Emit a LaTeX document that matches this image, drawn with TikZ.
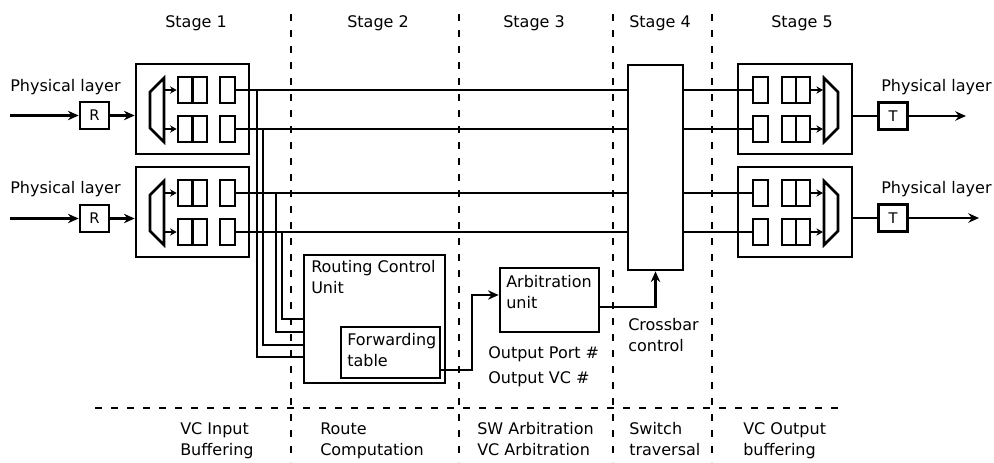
\documentclass[tikz,border=0pt]{standalone}
\usepackage{fontspec}
\setmainfont{DejaVu Sans}
\usetikzlibrary{fit,arrows.meta}
\begin{document}
\begin{tikzpicture}[x=0.75pt,y=-0.75pt,
  box/.style={draw, line width=2pt, inner sep=0pt},
  queue/.style={box, path picture={\draw[line width=2pt] (path picture bounding box.north) -- (path picture bounding box.south);}},
  wire/.style={line width=1.8pt},
  arr/.style={wire, -{Stealth[length=8pt,width=7pt]}},
  sarr/.style={line width=1.2pt, -{Stealth[length=5pt,width=5.5pt]}},
  stagesep/.style={line width=1.8pt, dash pattern=on 5.25pt off 6.75pt},
  txt/.style={inner sep=0pt, font=\fontsize{12}{15.5}\selectfont, align=left},
  lbl/.style={font=\fontsize{11}{13}\selectfont, minimum width=21.75pt, minimum height=20.25pt}
]
\useasboundingbox (0,0) rectangle (994,462);

% ---------- stage separators ----------
\coordinate (d1t) at (291,14);  \coordinate (d1b) at (291,462);
\coordinate (d2t) at (459,14);  \coordinate (d2b) at (459,462);
\coordinate (d3t) at (613,14);  \coordinate (d3b) at (613,462);
\coordinate (d4t) at (712,14);  \coordinate (d4b) at (712,462);
\coordinate (hl) at (95,408);   \coordinate (hr) at (842,408);
\draw[stagesep] (d1t) -- (d1b);
\draw[stagesep] (d2t) -- (d2b);
\draw[stagesep] (d3t) -- (d3b);
\draw[stagesep] (d4t) -- (d4b);
\draw[stagesep] (hl) -- (hr);

% ---------- stage titles ----------
\node[txt, anchor=base west] (st1) at (165,27) {Stage 1};
\node[txt, anchor=base west] (st2) at (347,27) {Stage 2};
\node[txt, anchor=base west] (st3) at (503,27) {Stage 3};
\node[txt, anchor=base west] (st4) at (629,27) {Stage 4};
\node[txt, anchor=base west] (st5) at (771,27) {Stage 5};

% ---------- input side ----------
\node[txt, anchor=base west] (pl1) at (10,91) {Physical layer};
\node[txt, anchor=base west] (pl2) at (10,193) {Physical layer};
\node[box, lbl] (R1) at (94.5,115.5) {R};
\node[box, lbl] (R2) at (94.5,218.5) {R};
\coordinate (in1) at (10,115.5);
\coordinate (in2) at (10,218.5);

\node[box, fit={(136,64)(249,154)}] (ib1) {};
\node[box, fit={(136,167)(249,257)}] (ib2) {};

\draw[box] (150,92) -- (164,78) -- (164,142) -- (150,128) -- cycle;
\draw[box] (150,195) -- (164,181) -- (164,245) -- (150,231) -- cycle;

\node[queue, fit={(178,77)(207,103)}] (q1a) {};
\node[queue, fit={(178,116)(207,142)}] (q1b) {};
\node[queue, fit={(178,180)(207,206)}] (q2a) {};
\node[queue, fit={(178,219)(207,245)}] (q2b) {};
\node[box, fit={(220,77)(235,103)}] (r1a) {};
\node[box, fit={(220,116)(235,142)}] (r1b) {};
\node[box, fit={(220,180)(235,206)}] (r2a) {};
\node[box, fit={(220,219)(235,245)}] (r2b) {};

\coordinate (m1a) at (165,90);
\coordinate (m1b) at (165,129);
\coordinate (m2a) at (165,193);
\coordinate (m2b) at (165,232);
\draw[sarr] (m1a) -- (q1a.west);
\draw[sarr] (m1b) -- (q1b.west);
\draw[sarr] (m2a) -- (q2a.west);
\draw[sarr] (m2b) -- (q2b.west);

\draw[arr] (in1) -- (R1.west);
\draw[arr] (in2) -- (R2.west);
\draw[arr] (R1.east) -- (R1.east -| ib1.west);
\draw[arr] (R2.east) -- (R2.east -| ib2.west);

% ---------- crossbar ----------
\node[box, fit={(628,65)(683,270)}] (xbar) {};

\draw[wire] (r1a.east) -- (r1a.east -| xbar.west);
\draw[wire] (r1b.east) -- (r1b.east -| xbar.west);
\draw[wire] (r2a.east) -- (r2a.east -| xbar.west);
\draw[wire] (r2b.east) -- (r2b.east -| xbar.west);

% ---------- routing control ----------
\node[box, fit={(304,255)(445,383)}] (rcu) {};
\node[txt, anchor=base west] (rcut) at (311,293) {Routing Control\\Unit};
\node[box, fit={(341,327)(440,378)}] (ft) {};
\node[txt, anchor=base west] (ftt) at (347,366) {Forwarding\\table};

\coordinate (v1) at (257,357);
\coordinate (v2) at (263,345);
\coordinate (v3) at (276,332);
\coordinate (v4) at (282,319);
\draw[wire] (v1 |- r1a.east) |- (rcu.west |- v1);
\draw[wire] (v2 |- r1b.east) |- (rcu.west |- v2);
\draw[wire] (v3 |- r2a.east) |- (rcu.west |- v3);
\draw[wire] (v4 |- r2b.east) |- (rcu.west |- v4);

% ---------- arbitration ----------
\node[box, fit={(500,268)(599,332)}] (arb) {};
\node[txt, anchor=base west] (arbt) at (506,308) {Arbitration\\unit};
\node[txt, anchor=base west] (oport) at (488,358) {Output Port \#};
\node[txt, anchor=base west] (ovc) at (488,383) {Output VC \#};

\coordinate (k1) at (472,370);
\coordinate (k2) at (472,295);
\draw[arr] (ft.east |- k1) -- (k1) -- (k2) -- (arb.west |- k2);

\coordinate (k3) at (599,307);
\draw[arr] (k3) -| (xbar.south);
\node[txt, anchor=base west] (xct) at (628,351) {Crossbar\\control};

% ---------- output side ----------
\node[box, fit={(738,64)(852,154)}] (ob1) {};
\node[box, fit={(738,167)(852,257)}] (ob2) {};
\node[box, fit={(753,77)(768,103)}] (o1a) {};
\node[box, fit={(753,116)(768,142)}] (o1b) {};
\node[box, fit={(753,180)(768,206)}] (o2a) {};
\node[box, fit={(753,219)(768,245)}] (o2b) {};
\node[queue, fit={(782,77)(810,103)}] (p1a) {};
\node[queue, fit={(782,116)(810,142)}] (p1b) {};
\node[queue, fit={(782,180)(810,206)}] (p2a) {};
\node[queue, fit={(782,219)(810,245)}] (p2b) {};
\draw[box] (824,78) -- (838,92) -- (838,128) -- (824,142) -- cycle;
\draw[box] (824,181) -- (838,195) -- (838,231) -- (824,245) -- cycle;
\coordinate (n1a) at (823,90);
\coordinate (n1b) at (823,129);
\coordinate (n2a) at (823,193);
\coordinate (n2b) at (823,232);
\draw[sarr] (p1a.east) -- (n1a);
\draw[sarr] (p1b.east) -- (n1b);
\draw[sarr] (p2a.east) -- (n2a);
\draw[sarr] (p2b.east) -- (n2b);

\draw[wire] (xbar.east |- o1a.west) -- (o1a.west);
\draw[wire] (xbar.east |- o1b.west) -- (o1b.west);
\draw[wire] (xbar.east |- o2a.west) -- (o2a.west);
\draw[wire] (xbar.east |- o2b.west) -- (o2b.west);

\node[box, lbl] (T1) at (893,116) {T};
\node[box, lbl] (T2) at (893,218) {T};
\coordinate (out1) at (966,116);
\coordinate (out2) at (979,218);
\draw[wire] (T1.west -| ob1.east) -- (T1.west);
\draw[wire] (T2.west -| ob2.east) -- (T2.west);
\draw[arr] (T1.east) -- (out1);
\draw[arr] (T2.east) -- (out2);
\node[txt, anchor=base west] (pr1) at (881,91) {Physical layer};
\node[txt, anchor=base west] (pr2) at (881,193) {Physical layer};

% ---------- bottom labels ----------
\node[txt, anchor=base west] (b1) at (180,455) {VC Input\\Buffering};
\node[txt, anchor=base west] (b2) at (320,455) {Route\\Computation};
\node[txt, anchor=base west] (b3) at (477,455) {SW Arbitration\\VC Arbitration};
\node[txt, anchor=base west] (b4) at (629,455) {Switch\\traversal};
\node[txt, anchor=base west] (b5) at (743,455) {VC Output\\buffering};
\end{tikzpicture}
\end{document}
